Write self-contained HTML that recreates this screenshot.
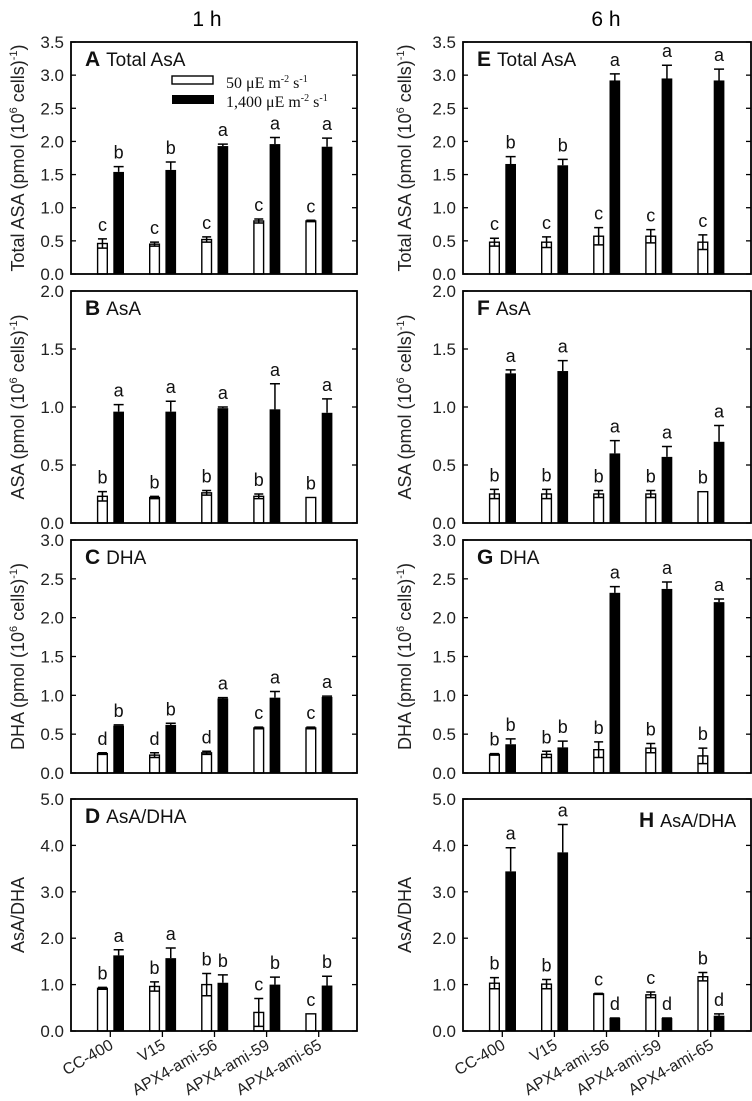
<!DOCTYPE html>
<html><head><meta charset="utf-8">
<style>
html,body{margin:0;padding:0;background:#fff;}
svg{display:block;font-family:"Liberation Sans",Arial,sans-serif;}
</style></head>
<body>
<svg id="chart" width="752" height="1101" viewBox="0 0 752 1101" xmlns="http://www.w3.org/2000/svg">
<text x="207" y="26" font-size="21" text-anchor="middle">1 h</text>
<text x="606" y="26" font-size="21" text-anchor="middle">6 h</text>
</svg>
<script>
const categories = ["CC-400","V15","APX4-ami-56","APX4-ami-59","APX4-ami-65"];
// panel A
const aLow = [0.46,0.45,0.52,0.80,0.80];
const aLowErr = [0.07,0.03,0.04,0.03,0.01];
const aHigh = [1.54,1.57,1.93,1.96,1.92];
const aHighErr = [0.08,0.12,0.03,0.10,0.13];
const aLowLet = ["c","c","c","c","c"];
const aHighLet = ["b","b","a","a","a"];
// panel B
const bLow = [0.23,0.22,0.26,0.23,0.22];
const bLowErr = [0.04,0.01,0.02,0.02,0.0];
const bHigh = [0.96,0.96,0.99,0.98,0.95];
const bHighErr = [0.06,0.09,0.01,0.22,0.12];
const bLowLet = ["b","b","b","b","b"];
const bHighLet = ["a","a","a","a","a"];
// panel C
const cLow = [0.25,0.23,0.26,0.58,0.58];
const cLowErr = [0.01,0.03,0.02,0.01,0.01];
const cHigh = [0.61,0.62,0.96,0.97,0.98];
const cHighErr = [0.01,0.02,0.01,0.08,0.01];
const cLowLet = ["d","d","d","c","c"];
const cHighLet = ["b","b","a","a","a"];
// panel D
const dLow = [0.92,0.96,1.00,0.40,0.37];
const dLowErr = [0.02,0.10,0.24,0.30,0.0];
const dHigh = [1.63,1.57,1.04,1.00,0.98];
const dHighErr = [0.12,0.22,0.17,0.16,0.20];
const dLowLet = ["b","b","b","c","c"];
const dHighLet = ["a","a","b","b","b"];
// panel E
const eLow = [0.48,0.48,0.57,0.57,0.48];
const eLowErr = [0.06,0.08,0.13,0.10,0.11];
const eHigh = [1.66,1.64,2.92,2.95,2.92];
const eHighErr = [0.11,0.09,0.10,0.20,0.17];
const eLowLet = ["c","c","c","c","c"];
const eHighLet = ["b","b","a","a","a"];
// panel F
const fLow = [0.25,0.25,0.25,0.25,0.27];
const fLowErr = [0.04,0.04,0.03,0.03,0.0];
const fHigh = [1.29,1.31,0.60,0.57,0.70];
const fHighErr = [0.03,0.09,0.11,0.09,0.14];
const fLowLet = ["b","b","b","b","b"];
const fHighLet = ["a","a","a","a","a"];
// panel G
const gLow = [0.24,0.24,0.30,0.32,0.22];
const gLowErr = [0.01,0.04,0.10,0.06,0.10];
const gHigh = [0.37,0.33,2.32,2.37,2.20];
const gHighErr = [0.07,0.08,0.08,0.09,0.04];
const gLowLet = ["b","b","b","b","b"];
const gHighLet = ["b","b","a","a","a"];
// panel H
const hLow = [1.03,1.01,0.80,0.78,1.17];
const hLowErr = [0.12,0.10,0.01,0.06,0.09];
const hHigh = [3.44,3.85,0.28,0.28,0.33];
const hHighErr = [0.51,0.60,0.0,0.0,0.04];
const hLowLet = ["b","b","c","c","b"];
const hHighLet = ["a","a","d","d","d"];
// tick labels
const ticksTotal = ["0.0","0.5","1.0","1.5","2.0","2.5","3.0","3.5"];
const ticksAsa = ["0.0","0.5","1.0","1.5","2.0"];
const ticksDha = ["0.0","0.5","1.0","1.5","2.0","2.5","3.0"];
const ticksRatio = ["0.0","1.0","2.0","3.0","4.0","5.0"];

const NS = "http://www.w3.org/2000/svg";
const svg = document.getElementById("chart");
function mk(tag, attrs, parent) {
  const e = document.createElementNS(NS, tag);
  for (const k in attrs) e.setAttribute(k, attrs[k]);
  (parent || svg).appendChild(e);
  return e;
}

const panels = [
  {id:"a", col:0, top:42, bot:274, max:3.5, ticks:ticksTotal, lo:aLow, loE:aLowErr, hi:aHigh, hiE:aHighErr, loL:aLowLet, hiL:aHighLet, letter:"A", title:"Total AsA", ytitle:["Total ASA (pmol (10","6"," cells)","-1",")"], legend:true},
  {id:"b", col:0, top:291, bot:523, max:2.0, ticks:ticksAsa, lo:bLow, loE:bLowErr, hi:bHigh, hiE:bHighErr, loL:bLowLet, hiL:bHighLet, letter:"B", title:"AsA", ytitle:["ASA (pmol (10","6"," cells)","-1",")"]},
  {id:"c", col:0, top:540, bot:773, max:3.0, ticks:ticksDha, lo:cLow, loE:cLowErr, hi:cHigh, hiE:cHighErr, loL:cLowLet, hiL:cHighLet, letter:"C", title:"DHA", ytitle:["DHA (pmol (10","6"," cells)","-1",")"]},
  {id:"d", col:0, top:799, bot:1031, max:5.0, ticks:ticksRatio, lo:dLow, loE:dLowErr, hi:dHigh, hiE:dHighErr, loL:dLowLet, hiL:dHighLet, letter:"D", title:"AsA/DHA", ytitle:["AsA/DHA"], xaxis:true},
  {id:"e", col:1, top:42, bot:274, max:3.5, ticks:ticksTotal, lo:eLow, loE:eLowErr, hi:eHigh, hiE:eHighErr, loL:eLowLet, hiL:eHighLet, letter:"E", title:"Total AsA", ytitle:["Total ASA (pmol (10","6"," cells)","-1",")"]},
  {id:"f", col:1, top:291, bot:523, max:2.0, ticks:ticksAsa, lo:fLow, loE:fLowErr, hi:fHigh, hiE:fHighErr, loL:fLowLet, hiL:fHighLet, letter:"F", title:"AsA", ytitle:["ASA (pmol (10","6"," cells)","-1",")"]},
  {id:"g", col:1, top:540, bot:773, max:3.0, ticks:ticksDha, lo:gLow, loE:gLowErr, hi:gHigh, hiE:gHighErr, loL:gLowLet, hiL:gHighLet, letter:"G", title:"DHA", ytitle:["DHA (pmol (10","6"," cells)","-1",")"]},
  {id:"h", col:1, top:799, bot:1031, max:5.0, ticks:ticksRatio, lo:hLow, loE:hLowErr, hi:hHigh, hiE:hHighErr, loL:hLowLet, hiL:hHighLet, letter:"H", title:"AsA/DHA", ytitle:["AsA/DHA"], xaxis:true, titleRight:true}
];
const colX = [[71,357],[463,751]];
const ytitleX = [18, 405];

panels.forEach(p => {
  const x0 = colX[p.col][0], x1 = colX[p.col][1];
  const g = mk("g", {});
  
  
  const y = v => p.bot - (v / p.max) * (p.bot - p.top);
  const xc = i => x0 + 39.3 + i * 52.1;
  p.ticks.forEach(t => {
    const v = parseFloat(t);
    const ty = y(v);
    const l1 = mk("line", {x1:x0, x2:x0+5, y1:ty, y2:ty, stroke:"#000", "stroke-width":1.3}, g);
    
    
    const l2 = mk("line", {x1:x1-5, x2:x1, y1:ty, y2:ty, stroke:"#000", "stroke-width":1.3}, g);
    
    
    const tx = mk("text", {x:x0-7, y:ty+6, "font-size":17, "text-anchor":"end", fill:"#222"}, g);
    tx.textContent = t;
    
    
  });
  const cy = (p.top + p.bot) / 2;
  const yt = mk("text", {x:0, y:0, "font-size":18, "text-anchor":"middle", fill:"#222",
    transform:`translate(${ytitleX[p.col]+6},${cy}) rotate(-90)`}, g);
  
  
  p.ytitle.forEach((s, k) => {
    const sp = mk("tspan", {}, yt);
    if (k === 1 || k === 3) { sp.setAttribute("dy", "-7"); sp.setAttribute("font-size", "11"); }
    else if (k === 2 || k === 4) { sp.setAttribute("dy", "7"); }
    sp.textContent = s;
  });
  for (let i = 0; i < categories.length; i++) {
    const c = xc(i);
    const wl = c - 12.7, wr = c - 3;
    const wy = y(p.lo[i]);
    const wb = mk("rect", {x:wl, y:wy, width:wr-wl, height:p.bot-wy, fill:"#fff", stroke:"#000", "stroke-width":1.4}, g);
    
    
    const wm = (wl + wr) / 2;
    const eu = y(p.lo[i] + p.loE[i]), ed = y(Math.max(0, p.lo[i] - p.loE[i]));
    if (p.loE[i] > 0) {
      const e1 = mk("path", {d:`M${wm},${ed}V${eu}M${wm-4.5},${eu}H${wm+4.5}M${wm-4.5},${ed}H${wm+4.5}`, stroke:"#000", "stroke-width":1.5, fill:"none"}, g);
      
      
    }
    const lt = mk("text", {x:wm, y:eu-8, "font-size":18, "text-anchor":"middle", fill:"#111"}, g);
    lt.textContent = p.loL[i];
    
    
    const bl = c + 3, br = c + 13.7;
    const by = y(p.hi[i]);
    const bb = mk("rect", {x:bl, y:by, width:br-bl, height:p.bot-by, fill:"#000"}, g);
    
    
    const bm = (bl + br) / 2;
    const bu = y(p.hi[i] + p.hiE[i]);
    const e2 = mk("path", {d:`M${bm},${by}V${bu}M${bm-5},${bu}H${bm+5}`, stroke:"#000", "stroke-width":1.5, fill:"none"}, g);
    
    
    const lt2 = mk("text", {x:bm, y:bu-8, "font-size":18, "text-anchor":"middle", fill:"#111"}, g);
    lt2.textContent = p.hiL[i];
    
    
    if (p.xaxis) {
      const xt = mk("line", {x1:c, x2:c, y1:p.bot, y2:p.bot+6, stroke:"#000", "stroke-width":1.3}, g);
      
      
      const xl = mk("text", {x:0, y:0, "font-size":16, "text-anchor":"end", fill:"#222",
        transform:`translate(${c+4},${p.bot+17}) rotate(-30)`}, g);
      xl.textContent = categories[i];
      
      
    }
  }
  const fr = mk("rect", {x:x0, y:p.top, width:x1-x0, height:p.bot-p.top, fill:"none", stroke:"#000", "stroke-width":1.8}, g);
  
  
  const tx = p.titleRight ? x1 - 112 : x0 + 14;
  const ty = p.titleRight ? p.top + 28 : p.top + 24;
  const pt = mk("text", {x:tx, y:ty, "font-size":p.titleRight ? 18 : 19, fill:"#111"}, g);
  
  
  const s1 = mk("tspan", {"font-weight":"bold", "font-size":21}, pt); s1.textContent = p.letter;
  const s2 = mk("tspan", {dx:6}, pt); s2.textContent = p.title;
  if (p.legend) {
    const lg = mk("g", {}, g);
    
    
    const r1 = mk("rect", {x:172, y:76, width:41, height:8, fill:"#fff", stroke:"#000", "stroke-width":1.4}, lg);
    
    
    const r2 = mk("rect", {x:172, y:95, width:42, height:9, fill:"#000"}, lg);
    
    
    const lt1 = mk("text", {x:226, y:88, "font-size":16, "font-family":"Liberation Serif, serif", fill:"#111"}, lg);
    lt1.innerHTML = '50 μE m<tspan dy="-6" font-size="10">-2</tspan><tspan dy="6"> s</tspan><tspan dy="-6" font-size="10">-1</tspan>';
    
    
    const lt2 = mk("text", {x:226, y:107, "font-size":16, "font-family":"Liberation Serif, serif", fill:"#111"}, lg);
    lt2.innerHTML = '1,400 μE m<tspan dy="-6" font-size="10">-2</tspan><tspan dy="6"> s</tspan><tspan dy="-6" font-size="10">-1</tspan>';
    
    
  }
});
</script>
</body></html>
